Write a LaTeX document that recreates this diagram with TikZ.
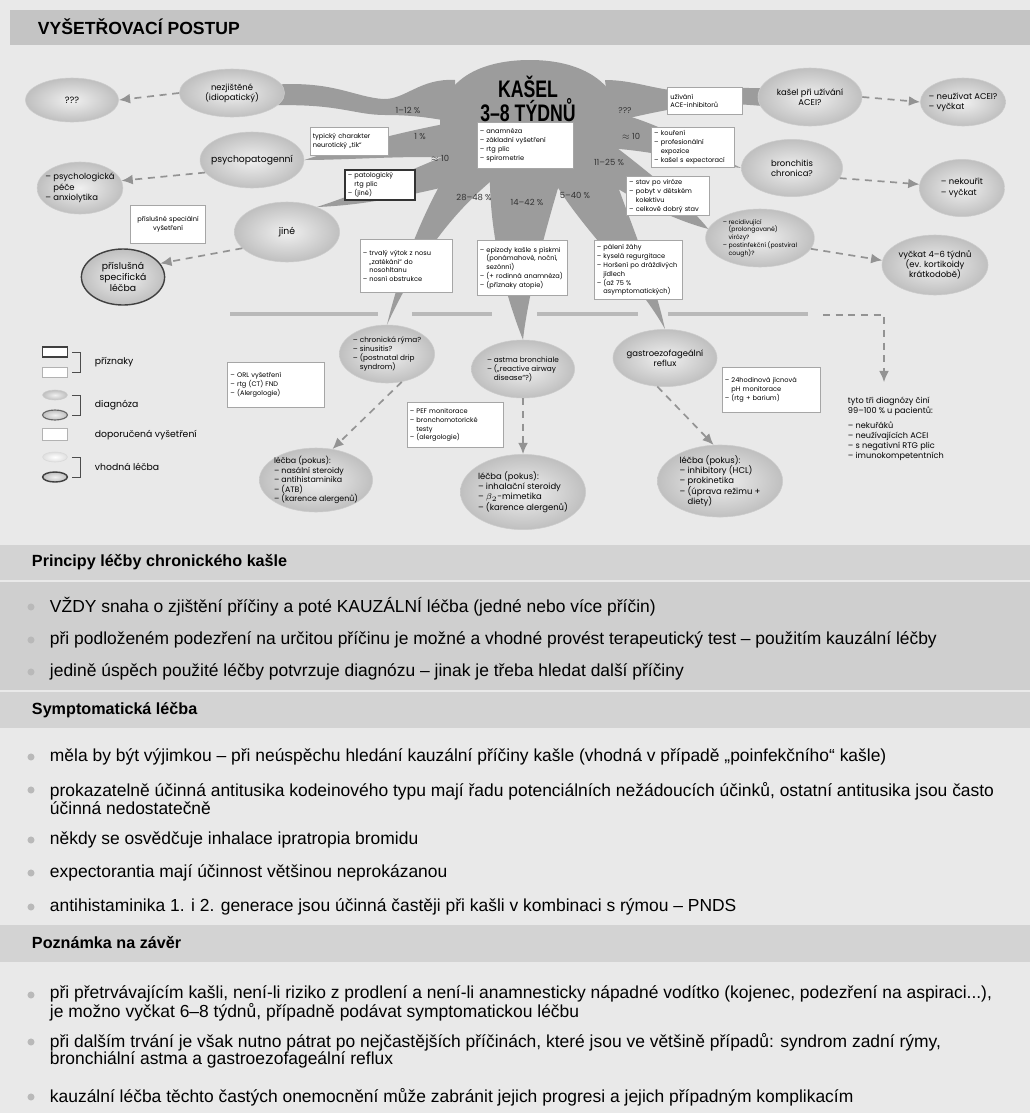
\documentclass[tikz,border=0pt]{standalone}
\usepackage{fontspec}
\setmainfont{Liberation Sans}
\newfontfamily\diafont{Poppins}
\newfontfamily\narrowfont{Liberation Sans}[FakeStretch=0.74]
\usetikzlibrary{shapes.geometric, arrows.meta, positioning}

\definecolor{paper}{HTML}{E9E9E9}
\definecolor{topband}{HTML}{C4C4C4}
\definecolor{secband}{HTML}{D3D3D3}
\definecolor{octo}{HTML}{9C9C9C}

\tikzstyle{dline} = [draw=gray!85, dashed, dash pattern=on 5pt off 4pt, line width=1.2pt, -{Latex[length=8pt,width=7pt]}]
\tikzstyle{gline} = [draw=gray!55, line width=2.8pt]
\tikzstyle{blob} = [fill=octo]
\newcommand{\indt}{\phantom{– }}

\pgfdeclarelayer{bg}
\pgfsetlayers{bg,main}

\begin{document}
\begin{tikzpicture}
    [
        x=0.025cm, y=-0.025cm,
        diag/.style={ellipse, draw=gray!40, inner color=gray!12, outer color=gray!50, inner xsep=-3pt, inner ysep=-1pt, align=center, font=\diafont\fontsize{6}{7.2}\selectfont},
        listdiag/.style={diag, align=left, font=\diafont\fontsize{5.2}{6.4}\selectfont},
        treat/.style={diag, align=left, font=\diafont\fontsize{6}{7.3}\selectfont},
        symbox/.style={draw=gray!70, fill=white, inner sep=2pt, align=left, font=\diafont\fontsize{4.7}{6.3}\selectfont},
        perc/.style={font=\diafont\fontsize{6}{7}\selectfont, text=black!80},
        legtext/.style={anchor=west, font=\diafont\fontsize{6.6}{8}\selectfont},
        lsym/.style={draw=gray!60, fill=white, minimum width=0.62cm, minimum height=0.25cm, inner sep=0pt},
        lell/.style={ellipse, draw=gray!40, inner color=gray!12, outer color=gray!50, minimum width=0.62cm, minimum height=0.25cm, inner sep=0pt},
        bracket/.style={draw=black!70, line width=0.7pt},
        bullet/.style={circle, fill=gray!55, inner sep=0pt, minimum size=5pt},
        btext/.style={anchor=west, align=left, font=\fontsize{12.4}{12.2}\selectfont},
        shead/.style={anchor=west, font=\bfseries\fontsize{11.5}{13}\selectfont}
    ]
    \useasboundingbox (0,0) rectangle (1030,1113);

    % title
    \node[anchor=west, font=\bfseries\fontsize{12.5}{14}\selectfont] (title) at (33,27) {VYŠETŘOVACÍ POSTUP};

    % diagnoses and treatments
    \node[diag, minimum width=2.33cm, minimum height=1.1cm, font=\diafont\fontsize{6.5}{7.5}\selectfont] (q3) at (72,100) {???};
    \node[diag, minimum width=2.63cm, minimum height=1.2cm] (idio) at (232,93) {nezjištěné\\(idiopatický)};
    \node[diag, minimum width=2.58cm, minimum height=1.4cm, font=\diafont\fontsize{6.6}{8}\selectfont] (psycho) at (252,160) {psychopatogenní};
    \node[treat, minimum width=2.13cm, minimum height=1.3cm] (psyTr) at (80,188) {– psychologická\\\indt péče\\– anxiolytika};
    \node[diag, minimum width=2.63cm, minimum height=1.5cm, font=\diafont\fontsize{6.6}{8}\selectfont] (jine) at (287,232) {jiné};
    \node[diag, draw=black!75, line width=1pt, minimum width=2.08cm, minimum height=1.4cm, font=\diafont\fontsize{6.6}{8}\selectfont] (jineTr) at (123,277) {příslušná\\specifická\\léčba};
    \node[diag, minimum width=2.6cm, minimum height=1.45cm] (aceEll) at (810,97) {kašel při užívání\\ACEI?};
    \node[treat, minimum width=2cm, minimum height=1.2cm] (aceTr) at (963,102) {– neužívat ACEI?\\– vyčkat};
    \node[diag, minimum width=2.53cm, minimum height=1.43cm] (bronch) at (792,168) {bronchitis\\chronica?};
    \node[treat, minimum width=2.13cm, minimum height=1.43cm] (bronchTr) at (962,188) {– nekouřit\\– vyčkat};
    \node[listdiag, inner xsep=-1pt, minimum width=2.72cm, minimum height=1.45cm, font=\diafont\fontsize{4.4}{5.5}\selectfont] (viral) at (760,238) {– recidivující\\\indt (prolongované)\\\indt virózy?\\– postinfekční (postviral\\\indt cough)?};
    \node[diag, minimum width=2.65cm, minimum height=1.5cm] (viralTr) at (935,265) {vyčkat 4–6 týdnů\\(ev. kortikoidy\\krátkodobě)};
    \node[listdiag, minimum width=2.38cm, minimum height=1.45cm] (nose) at (387,354) {– chronická rýma?\\– sinusitis?\\– (postnatal drip\\\indt syndrom)};
    \node[treat, minimum width=2.83cm, minimum height=1.6cm, font=\diafont\fontsize{5.6}{6.8}\selectfont] (noseTr) at (316,480) {léčba (pokus):\\– nasální steroidy\\– antihistaminika\\– (ATB)\\– (karence alergenů)};
    \node[listdiag, minimum width=2.58cm, minimum height=1.45cm] (asthma) at (523,369) {– astma bronchiale\\– („reactive airway\\\indt disease“?)};
    \node[treat, minimum width=3.13cm, minimum height=1.88cm] (asthmaTr) at (523,492) {léčba (pokus):\\– inhalační steroidy\\– $\beta_2$-mimetika\\– (karence alergenů)};
    \node[diag, minimum width=2.6cm, minimum height=1.43cm] (gerd) at (665,358) {gastroezofageální\\reflux};
    \node[treat, minimum width=3.13cm, minimum height=1.8cm] (gerdTr) at (720,481) {léčba (pokus):\\– inhibitory (HCL)\\– prokinetika\\– (úprava režimu +\\\indt diety)};

    % symptoms and examinations
    \node[symbox, text width=2.26cm, minimum height=1.15cm] (anamBox) at (525,145) {– anamnéza\\– základní vyšetření\\– rtg plic\\– spirometrie};
    \node[symbox, text width=1.81cm, minimum height=0.7cm] (tikBox) at (349,141) {typický charakter\\neurotický „tik“};
    \node[symbox, draw=black!80, line width=0.9pt, text width=1.61cm, minimum height=0.75cm] (patBox) at (380,185) {– patologický\\\indt rtg plic\\– (jiné)};
    \node[symbox, align=center, text width=1.73cm, minimum height=0.95cm] (specBox) at (168,224) {příslušné speciální\\vyšetření};
    \node[symbox, text width=1.73cm, minimum height=0.68cm] (aceBox) at (705,101) {užívání\\ACE-inhibitorů};
    \node[symbox, text width=1.94cm, minimum height=1cm] (kourBox) at (693,147) {– kouření\\– profesionální\\\indt expozice\\– kašel s expectorací};
    \node[symbox, text width=1.94cm, minimum height=0.95cm] (stavBox) at (668,196) {– stav po viróze\\– pobyt v dětském\\\indt kolektivu\\– celkově dobrý stav};
    \node[symbox, text width=2.16cm, minimum height=1.33cm] (noseBox) at (406,266) {– trvalý výtok z nosu\\\indt „zatékání“ do\\\indt nosohltanu\\– nosní obstrukce};
    \node[symbox, text width=2.11cm, minimum height=1.38cm] (asthBox) at (522,268) {– epizody kašle s pískmi\\\indt (ponámahové, noční,\\\indt sezónní)\\– (+ rodinná anamnéza)\\– (příznaky atopie)};
    \node[symbox, text width=2.06cm, minimum height=1.48cm] (gerdBox) at (638,270) {– pálení žáhy\\– kyselá regurgitace\\– Horšení po dráždivých\\\indt jídlech\\– (až 75 \%\\\indt asymptomatických)};
    \node[symbox, text width=2.28cm, minimum height=1.13cm] (orlBox) at (276,385) {– ORL vyšetření\\– rtg (CT) FND\\– (Alergologie)};
    \node[symbox, text width=2.26cm, minimum height=1.13cm] (pefBox) at (455,425) {– PEF monitorace\\– bronchomotorické\\\indt testy\\– (alergologie)};
    \node[symbox, text width=2.31cm, minimum height=1.13cm] (phBox) at (771,390) {– 24hodinová jícnová\\\indt pH monitorace\\– (rtg + barium)};

    % centre
    \node[font=\narrowfont\bfseries\fontsize{17}{15.5}\selectfont, align=center] (kasel) at (528,99) {KAŠEL\\3–8 TÝDNŮ};
    \node[perc] (pctIdio) at (408,110) {1–12 \%};
    \node[perc] (pctPsycho) at (420,136) {1 \%};
    \node[perc] (pctJine) at (440,159) {$\approx$ 10};
    \node[perc] (pctNose) at (474,197) {28–48 \%};
    \node[perc] (pctAsthma) at (527,202) {14–42 \%};
    \node[perc] (pctGerd) at (575,195) {5–40 \%};
    \node[perc] (pctViral) at (609,162) {11–25 \%};
    \node[perc] (pctBronch) at (631,137) {$\approx$ 10};
    \node[perc] (pctAce) at (625,111) {???};

    \node[anchor=north west, align=left, font=\diafont\fontsize{5.8}{7.1}\selectfont] (note) at (843,392) {tyto tři diagnózy činí\\99–100 \% u pacientů:\\[3.5pt]– nekuřáků\\– neužívajících ACEI\\– s negativní RTG plic\\– imunokompetentních};

    % legend
    \node[lsym, draw=black!75, line width=1pt] (legSym1) at (55,352) {};
    \node[lsym] (legSym2) at (55,372) {};
    \node[lell] (legDia1) at (55,395) {};
    \node[lell, draw=black!60, line width=0.8pt] (legDia2) at (55,415) {};
    \node[lsym, minimum height=0.3cm] (legExam) at (55,434) {};
    \node[lell, draw=gray!30, inner color=white, outer color=gray!25] (legTr1) at (55,457) {};
    \node[lell, draw=black!75, line width=1pt] (legTr2) at (55,477) {};
    \draw[bracket] ([xshift=3pt]legSym1.east) -| ([xshift=9pt]legSym2.east) -- ([xshift=3pt]legSym2.east);
    \draw[bracket] ([xshift=3pt]legDia1.east) -| ([xshift=9pt]legDia2.east) -- ([xshift=3pt]legDia2.east);
    \draw[bracket] ([xshift=3pt]legTr1.east) -| ([xshift=9pt]legTr2.east) -- ([xshift=3pt]legTr2.east);
    \node[legtext] (legSym) at (90,362) {příznaky};
    \node[legtext] (legDia) at (90,405) {diagnóza};
    \node[legtext] (legExamT) at (90,435) {doporučená vyšetření};
    \node[legtext] (legTr) at (90,467) {vhodná léčba};

    % arrows
    \draw[dline] (idio.west) -- (q3.east);
    \draw[dline] (psycho.195) -- (psyTr.10);
    \draw[dline] (jine.200) -- (jineTr.20);
    \draw[dline] (aceEll.east) -- (aceTr.west);
    \draw[dline] (bronch.-12) -- (bronchTr.175);
    \draw[dline] (viral.-12) -- (viralTr.175);
    \draw[dline] (nose.-62) -- (noseTr.62);
    \draw[dline] (asthma.south) -- (asthmaTr.north);
    \draw[dline] (gerd.-105) -- (gerdTr.100);
    \coordinate (glEnd) at (823,315);
    \coordinate (bend) at (884,315);
    \draw[dline, shorten >=7pt] (glEnd) -- (bend) -- (bend |- note.north);

    % text sections
    \node[shead] (hPrin) at (27,562) {Principy léčby chronického kašle};
    \node[bullet] (pr1d) at (31,607) {};
    \node[btext] (pr1) at (45,607) {VŽDY snaha o zjištění příčiny a poté KAUZÁLNÍ léčba (jedné nebo více příčin)};
    \node[bullet] (pr2d) at (31,640) {};
    \node[btext] (pr2) at (45,640) {při podloženém podezření na určitou příčinu je možné a vhodné provést terapeutický test – použitím kauzální léčby};
    \node[bullet] (pr3d) at (31,672) {};
    \node[btext] (pr3) at (45,672) {jedině úspěch použité léčby potvrzuje diagnózu – jinak je třeba hledat další příčiny};

    \node[shead] (hSymp) at (27,710) {Symptomatická léčba};
    \node[bullet] (sy1d) at (31,757) {};
    \node[btext] (sy1) at (45,757) {měla by být výjimkou – při neúspěchu hledání kauzální příčiny kašle (vhodná v případě „poinfekčního“ kašle)};
    \node[bullet] (sy2d) at (31,790) {};
    \node[btext] (sy2) at (45,798.5) {prokazatelně účinná antitusika kodeinového typu mají řadu potenciálních nežádoucích účinků, ostatní antitusika jsou často\\účinná nedostatečně};
    \node[bullet] (sy3d) at (31,840) {};
    \node[btext] (sy3) at (45,840) {někdy se osvědčuje inhalace ipratropia bromidu};
    \node[bullet] (sy4d) at (31,873) {};
    \node[btext] (sy4) at (45,873) {expectorantia mají účinnost většinou neprokázanou};
    \node[bullet] (sy5d) at (31,907) {};
    \node[btext] (sy5) at (45,907) {antihistaminika 1. i 2. generace jsou účinná častěji při kašli v kombinaci s rýmou – PNDS};

    \node[shead] (hPozn) at (27,943) {Poznámka na závěr};
    \node[bullet] (po1d) at (31,995) {};
    \node[btext] (po1) at (45,1003.5) {při přetrvávajícím kašli, není-li riziko z prodlení a není-li anamnesticky nápadné vodítko (kojenec, podezření na aspiraci...),\\je možno vyčkat 6–8 týdnů, případně podávat symptomatickou léčbu};
    \node[bullet] (po2d) at (31,1042) {};
    \node[btext] (po2) at (45,1050.5) {při dalším trvání je však nutno pátrat po nejčastějších příčinách, které jsou ve většině případů: syndrom zadní rýmy,\\bronchiální astma a gastroezofageální reflux};
    \node[bullet] (po3d) at (31,1097) {};
    \node[btext] (po3) at (45,1097) {kauzální léčba těchto častých onemocnění může zabránit jejich progresi a jejich případným komplikacím};

    \begin{pgfonlayer}{bg}
        \fill[paper] (0,0) rectangle (1030,1113);
        \fill[topband] (10,10) rectangle (1030,45);
        \fill[secband] (0,545) rectangle (1030,580);
        \fill[gray!38] (0,582) rectangle (1030,690);
        \fill[secband] (0,692) rectangle (1030,728);
        \fill[secband] (0,925) rectangle (1030,962);

        % octopus
        \fill[blob] (440,125) .. controls (440,80) and (480,60) .. (530,60) .. controls (585,60) and (618,85) .. (620,120) .. controls (620,160) and (585,175) .. (530,175) .. controls (470,175) and (440,160) .. (440,125) -- cycle;
        \fill[blob] (455,80) .. controls (420,78) and (405,100) .. (383,99) .. controls (355,97) and (335,82) .. (idio.10) -- (idio.-15) .. controls (340,104) and (355,115) .. (385,115) .. controls (415,115) and (430,118) .. (455,122) -- cycle;
        \fill[blob] (605,80) .. controls (640,80) and (665,95) .. (700,90) .. controls (725,87) and (745,88) .. (aceEll.170) -- (aceEll.190) .. controls (740,104) and (720,103) .. (695,106) .. controls (660,110) and (640,116) .. (610,122) -- cycle;
        \fill[blob] (455,122) .. controls (410,130) and (350,145) .. (psycho.east) .. controls (350,160) and (410,155) .. (455,158) -- cycle;
        \fill[blob] (460,150) .. controls (420,165) and (370,190) .. (jine.40) .. controls (375,205) and (430,190) .. (475,180) -- cycle;
        \fill[blob] (455,160) .. controls (425,205) and (400,270) .. (nose.north) .. controls (410,275) and (445,215) .. (505,170) -- cycle;
        \fill[blob] (490,165) .. controls (488,230) and (505,295) .. (asthma.north) .. controls (528,295) and (545,230) .. (565,165) -- cycle;
        \fill[blob] (545,165) .. controls (575,225) and (635,275) .. (gerd.north) .. controls (652,270) and (625,210) .. (605,150) -- cycle;
        \fill[blob] (600,135) .. controls (640,165) and (690,205) .. (viral.170) .. controls (680,222) and (630,200) .. (590,170) -- cycle;
        \fill[blob] (605,110) .. controls (655,120) and (705,150) .. (bronch.west) .. controls (700,163) and (650,150) .. (605,148) -- cycle;

        % collecting line
        \draw[gline] (230,314) -- (378,314);
        \draw[gline] (412,314) -- (492,314);
        \draw[gline] (537,314) -- (638,314);
        \draw[gline] (668,314) -- (808,314);
    \end{pgfonlayer}
\end{tikzpicture}
\end{document}
